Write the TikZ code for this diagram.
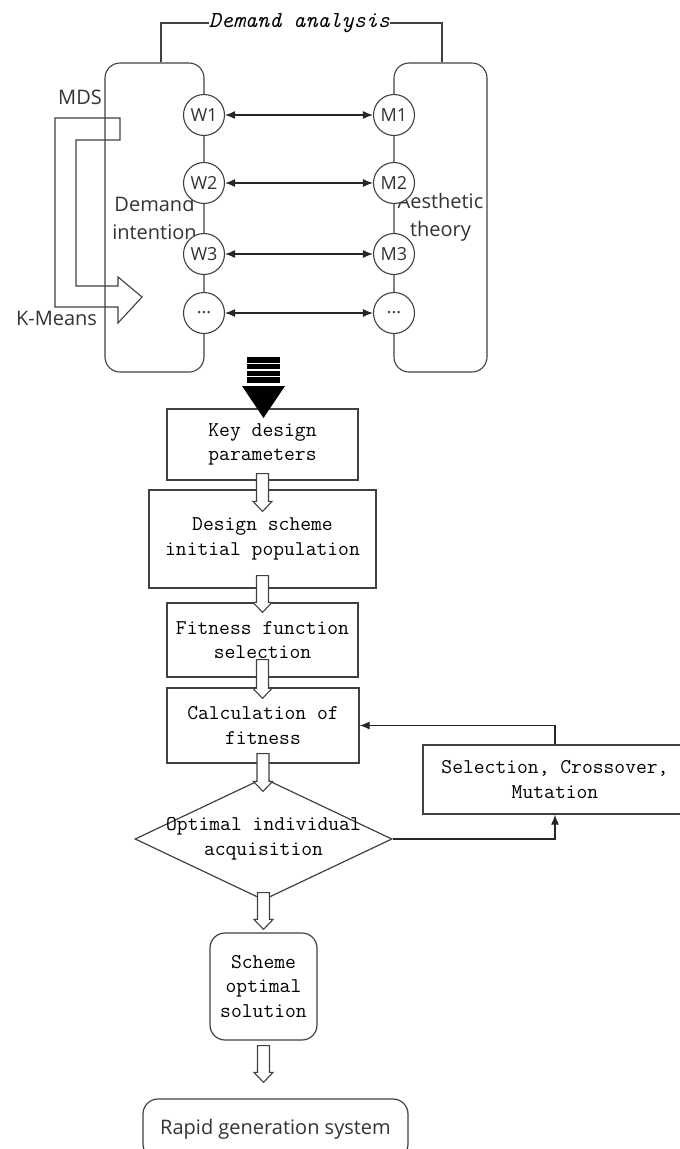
\documentclass[tikz,border=0pt]{standalone}
\usepackage{fontspec}
\usepackage{tikz}
\usetikzlibrary{shapes, shapes.geometric, arrows, arrows.meta, calc}
\newfontfamily\opensans{Open Sans}
\newcommand{\diagmono}{\fontsize{21}{24.5}\selectfont\ttfamily}
\newcommand{\diagsans}{\fontsize{20}{28}\selectfont\opensans}
\tikzstyle{group} = [rectangle, draw=black!75, rounded corners=15pt, line width=1.1pt,
    font=\diagsans, text=black!80, align=center, inner sep=0pt]
\tikzstyle{item} = [circle, draw=black!75, fill=white, line width=1.1pt, minimum size=41pt,
    inner sep=0pt, font=\fontsize{18}{20}\selectfont\opensans, text=black!80]
\tikzstyle{block} = [rectangle, draw=black!75, line width=1.2pt, font=\diagmono,
    align=center, inner sep=0pt]
\tikzstyle{rblock} = [block, rounded corners=15pt]
\tikzstyle{decision} = [diamond, draw=black!75, line width=1.2pt, inner sep=0pt]
\tikzstyle{tag} = [font=\diagsans, text=black!80, inner sep=0pt]
\tikzstyle{line} = [draw=black!85, line width=1.2pt, -{Latex[length=10pt,width=8pt]}]
\tikzstyle{biline} = [line, {Latex[length=10pt,width=8pt]}-{Latex[length=10pt,width=8pt]}]
\tikzset{hollow/.style 2 args={draw=black!75, line width=1.1pt, fill=white,
    to path={let \p1=(\tikztostart), \p2=(\tikztotarget) in
      ({\x1-6pt},{\y1+#1}) -- ({\x1+6pt},{\y1+#1}) -- ({\x1+6pt},{\y2+10pt-1*(#2)})
      -- ({\x1+9.5pt},{\y2+10pt-1*(#2)}) -- ({\x1},{\y2-1*(#2)}) -- ({\x1-9.5pt},{\y2+10pt-1*(#2)})
      -- ({\x1-6pt},{\y2+10pt-1*(#2)}) -- cycle}}}

\begin{document}
\begin{tikzpicture}[x=1pt, y=-1pt]
    \useasboundingbox (0,0) rectangle (680,1149);
    \clip (0,0) rectangle (680,1149);
    % Nodes
    \node [group, minimum width=99pt, minimum height=309pt] (demand) at (154.5,217.5) {Demand\\intention};
    \node [group, minimum width=93pt, minimum height=309pt] (aesthetic) at (440.5,217.5) {Aesthetic\\theory};
    \node [font=\fontsize{23}{26}\selectfont\ttfamily\itshape, inner sep=0pt] (analysis) at (299.5,23) {Demand analysis};
    \node [tag] (mds) at (80,97) {MDS};
    \node [tag] (kmeans) at (56.5,318) {K-Means};
    \foreach \n/\y in {1/115, 2/183, 3/254} {
        \node [item] (w\n) at (204,\y) {W\n};
        \node [item] (m\n) at (394,\y) {M\n};
    }
    \node [item] (w4) at (204,313) {...};
    \node [item] (m4) at (394,313) {...};

    \node [block, minimum width=191pt, minimum height=71pt] (key) at (262.5,444.5) {Key design\\parameters};
    \node [block, minimum width=227pt, minimum height=98pt] (design) at (262.5,539) {Design scheme\\initial population};
    \node [block, minimum width=191pt, minimum height=74pt] (fitness) at (262.5,640) {Fitness function\\selection};
    \node [block, minimum width=192pt, minimum height=75pt] (calc) at (263,725.5) {Calculation of\\fitness};
    \node [decision, minimum width=257pt, minimum height=122pt,
        label={[font=\diagmono, align=center]center:{Optimal individual\\acquisition}}] (optimal) at (263.5,839) {};
    \node [block, minimum width=264pt, minimum height=69pt] (selection) at (555,779.5) {Selection, Crossover,\\Mutation};
    \node [rblock, minimum width=107pt, minimum height=107pt] (scheme) at (263.5,986.5) {Scheme\\optimal\\solution};
    \node [rblock, font=\diagsans, text=black!80, minimum width=265pt, minimum height=60pt] (rapid) at (275.5,1129) {Rapid generation system};

    % Edges
    \draw [black!75, line width=1.1pt] (analysis.west) -| ([xshift=6.5pt]demand.north);
    \draw [black!75, line width=1.1pt] (analysis.east) -| ([xshift=1.5pt]aesthetic.north);
    \foreach \n in {1,2,3,4}
        \path [biline] (w\n) -- (m\n);
    % MDS / K-Means hollow bend
    \draw [black!75, line width=1.1pt] (120,118) -- (55,118) -- (55,307) -- (118,307) -- (118,323)
        -- (142,297) -- (118,277) -- (118,286) -- (76,286) -- (76,140) -- (120,140) -- cycle;
    % big black arrow
    \fill [black] (247,357) rectangle (280,383);
    \foreach \y in {363.5, 370, 376.5}
        \draw [white, line width=1.3pt] (247,\y) -- (280,\y);
    \fill [black] (242,386) -- (285,386) -- (263.5,418) -- cycle;

    \draw [hollow={7pt}{22pt}] (key.south) to (design.north);
    \draw [hollow={13pt}{10pt}] (design.south) to (fitness.north);
    \draw [hollow={18pt}{11pt}] (fitness.south) to (calc.north);
    \draw [hollow={10pt}{14pt}] (calc.south) to (optimal.north);
    \draw [hollow={8pt}{-3pt}] (optimal.south) to (scheme.north);
    \draw [hollow={-5pt}{-16pt}] (scheme.south) to (rapid.north);
    \path [line] (optimal.east) -| (selection.south);
    \path [line] (selection.north) |- (calc.east);
\end{tikzpicture}
\end{document}
